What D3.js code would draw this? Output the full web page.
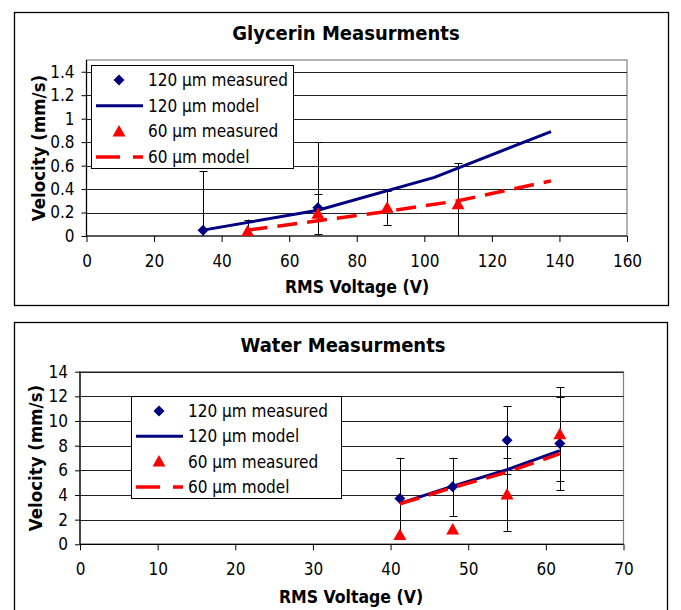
<!DOCTYPE html>
<html>
<head>
<meta charset="utf-8">
<script src="https://cdn.jsdelivr.net/npm/d3@7"></script>
<style>
  body { margin: 0; background: #fff; }
  text { font-family: Tahoma, "DejaVu Sans Condensed", "DejaVu Sans", sans-serif; fill: #000; }
</style>
</head>
<body>
<svg width="681" height="610"></svg>
<script>

var series_names = ['120 µm measured', '120 µm model', '60 µm measured', '60 µm model']

////////////////////// GLYCERIN ////////////////////////////////////

var gly_x_ticks = [0, 20, 40, 60, 80, 100, 120, 140, 160]
var gly_y_ticks = [0, 0.2, 0.4, 0.6, 0.8, 1, 1.2, 1.4]
var gly_y_labels = ['0', '0.2', '0.4', '0.6', '0.8', '1', '1.2', '1.4']

var gly_120_volts = [34.5, 68.5]
var gly_120_vel = [0.05, 0.24]
var gly_120_err = [0.5, 0.56]

var gly_120_model_volts = [34.5, 68.5, 103, 137.5]
var gly_120_model_vel = [0.05, 0.22, 0.5, 0.89]

var gly_60_volts = [47.7, 68.5, 89, 110]
var gly_60_vel = [0.04, 0.19, 0.24, 0.27]
var gly_60_err = [0.1, 0.17, 0.145, 0.35]

var gly_60_model_volts = [47.7, 68.5, 89, 110, 137.5]
var gly_60_model_vel = [0.05, 0.13, 0.21, 0.3, 0.47]

////////////////////// WATER ////////////////////////////////////

var wat_x_ticks = [0, 10, 20, 30, 40, 50, 60, 70]
var wat_y_ticks = [0, 2, 4, 6, 8, 10, 12, 14]
var wat_y_labels = ['0', '2', '4', '6', '8', '10', '12', '14']

var wat_120_volts = [41.2, 48, 55, 61.8]
var wat_120_vel = [3.72, 4.67, 8.44, 8.17]
var wat_120_err = [3.3, 2.36, 2.77, 3.8]

var wat_120_model_volts = [41.2, 48, 55, 61.8]
var wat_120_model_vel = [3.32, 4.72, 6.05, 7.6]

var wat_60_volts = [41.2, 48, 55, 61.8]
var wat_60_vel = [0.75, 1.21, 4.04, 8.92]
var wat_60_err = [0, 0, 2.95, 3.8]

var wat_60_model_volts = [41.2, 48, 55, 61.8]
var wat_60_model_vel = [3.28, 4.6, 5.85, 7.35]

var navy = '#000080'
var red = '#ff0000'

function zip (xs, ys, errs) {
  return xs.map((x, i) => ({ x: x, y: ys[i], err: errs ? errs[i] : 0 }))
}

var svg = d3.select('svg')

function chart (cfg, id) {
  var g = svg.append('g')

  // outer frame
  g.append('rect')
    .attr('x', cfg.frame[0] + .5).attr('y', cfg.frame[1] + .5)
    .attr('width', cfg.frame[2]).attr('height', cfg.frame[3])
    .attr('fill', '#fff').attr('stroke', '#000').attr('stroke-width', 1.3)

  var x = d3.scaleLinear().domain(cfg.x_domain).range([cfg.plot.left, cfg.plot.right])
  var y = d3.scaleLinear().domain(cfg.y_domain).range([cfg.plot.bottom, cfg.plot.top])

  g.append('text')
    .attr('x', cfg.title_pos[0]).attr('y', cfg.title_pos[1])
    .attr('text-anchor', 'middle').attr('dominant-baseline', 'central')
    .attr('font-size', 20).attr('font-weight', 'bold')
    .text(cfg.title)

  // plot area border
  g.append('rect')
    .attr('x', cfg.plot.left).attr('y', cfg.plot.top)
    .attr('width', cfg.plot.right - cfg.plot.left)
    .attr('height', cfg.plot.bottom - cfg.plot.top)
    .attr('fill', 'none').attr('stroke', '#808080').attr('stroke-width', 1.2)

  // gridlines
  g.append('g').selectAll('line')
    .data(cfg.y_ticks.filter((d) => d > 0))
    .enter().append('line')
      .attr('x1', cfg.plot.left).attr('x2', cfg.plot.right)
      .attr('y1', (d) => Math.round(y(d)) + .5).attr('y2', (d) => Math.round(y(d)) + .5)
      .attr('stroke', '#222').attr('stroke-width', 1)

  // axes
  var y_axis = d3.axisLeft(y).tickValues(cfg.y_ticks)
    .tickFormat((d, i) => cfg.y_labels[i]).tickSize(5).tickPadding(7)
  var ya = g.append('g')
    .attr('transform', 'translate(' + cfg.plot.left + ',0)')
    .call(y_axis)
  var x_axis = d3.axisBottom(x).tickValues(cfg.x_ticks)
    .tickFormat(d3.format('d')).tickSize(6).tickPadding(13)
  var xa = g.append('g')
    .attr('transform', 'translate(0,' + cfg.plot.bottom + ')')
    .call(x_axis)
  ;[ya, xa].forEach((a) => {
    a.selectAll('path').attr('stroke', '#000').attr('stroke-width', 1.2)
    a.selectAll('line').attr('stroke', '#000')
    a.selectAll('text').attr('font-size', 17).attr('font-family', null)
  })
  ya.select('.domain').attr('d', 'M0,' + cfg.plot.top + 'V' + cfg.plot.bottom)
  xa.select('.domain').attr('d', 'M' + cfg.plot.left + ',0H' + cfg.plot.right)

  g.append('text')
    .attr('x', cfg.x_title_pos[0]).attr('y', cfg.x_title_pos[1])
    .attr('text-anchor', 'middle').attr('dominant-baseline', 'central')
    .attr('font-size', 17.5).attr('font-weight', 'bold')
    .text('RMS Voltage (V)')
  g.append('text')
    .attr('transform', 'translate(' + cfg.y_title_pos[0] + ',' + cfg.y_title_pos[1] + ') rotate(-90)')
    .attr('text-anchor', 'middle').attr('dominant-baseline', 'central')
    .attr('font-size', 18.5).attr('font-weight', 'bold')
    .text('Velocity (mm/s)')

  // clip for series
  svg.append('clipPath').attr('id', 'clip' + id)
    .append('rect')
      .attr('x', cfg.plot.left).attr('y', cfg.plot.top)
      .attr('width', cfg.plot.right - cfg.plot.left)
      .attr('height', cfg.plot.bottom - cfg.plot.top)
  var s = g.append('g').attr('clip-path', 'url(#clip' + id + ')')

  var line = d3.line().x((d) => x(d.x)).y((d) => y(d.y))

  function error_bars (pts) {
    var e = s.append('g').attr('stroke', '#000').attr('stroke-width', 1)
    pts.filter((d) => d.err > 0).forEach((d) => {
      var cx = Math.round(x(d.x)) + .5
      e.append('line').attr('x1', cx).attr('x2', cx)
        .attr('y1', y(d.y + d.err)).attr('y2', y(d.y - d.err))
      ;[d.y + d.err, d.y - d.err].forEach((v) => {
        e.append('line').attr('x1', cx - 4).attr('x2', cx + 4)
          .attr('y1', Math.round(y(v)) + .5).attr('y2', Math.round(y(v)) + .5)
      })
    })
  }

  error_bars(cfg.meas120)
  error_bars(cfg.meas60)

  s.selectAll('.dia').data(cfg.meas120).enter()
    .append('path').attr('class', 'dia')
    .attr('transform', (d) => 'translate(' + x(d.x) + ',' + y(d.y) + ')')
    .attr('d', 'M0,-5.5L5.5,0L0,5.5L-5.5,0Z').attr('fill', navy)

  s.append('path').datum(cfg.model120)
    .attr('d', line).attr('fill', 'none')
    .attr('stroke', navy).attr('stroke-width', 3)

  s.selectAll('.tri').data(cfg.meas60).enter()
    .append('path').attr('class', 'tri')
    .attr('transform', (d) => 'translate(' + x(d.x) + ',' + y(d.y) + ')')
    .attr('d', 'M0,-6.5L6.5,5L-6.5,5Z').attr('fill', red)

  s.append('path').datum(cfg.model60)
    .attr('d', line).attr('fill', 'none')
    .attr('stroke', red).attr('stroke-width', 3.5)
    .attr('stroke-dasharray', '20,10')

  // legend
  var L = cfg.legend
  var lg = g.append('g')
  lg.append('rect')
    .attr('x', L.x + .5).attr('y', L.y + .5).attr('width', L.w).attr('height', L.h)
    .attr('fill', '#fff').attr('stroke', '#000').attr('stroke-width', 1)
  series_names.forEach((name, i) => {
    var cy = L.row0 + i * L.step
    if (i === 0) {
      lg.append('path').attr('transform', 'translate(' + L.mx + ',' + cy + ')')
        .attr('d', 'M0,-5.5L5.5,0L0,5.5L-5.5,0Z').attr('fill', navy)
    } else if (i === 2) {
      lg.append('path').attr('transform', 'translate(' + L.mx + ',' + cy + ')')
        .attr('d', 'M0,-6.5L6.5,5L-6.5,5Z').attr('fill', red)
    } else {
      lg.append('line').attr('x1', L.lx1).attr('x2', L.lx2).attr('y1', cy).attr('y2', cy)
        .attr('stroke', i === 1 ? navy : red).attr('stroke-width', i === 1 ? 3 : 3.5)
        .attr('stroke-dasharray', i === 1 ? null : '24,13')
    }
    lg.append('text').attr('x', L.tx).attr('y', cy)
      .attr('dominant-baseline', 'central').attr('font-size', 17)
      .text(name)
  })
}

chart({
  title: 'Glycerin Measurments',
  frame: [14, 12, 654, 293],
  plot: { left: 86.5, right: 627, top: 60, bottom: 236 },
  x_domain: [0, 160], y_domain: [0, 1.5],
  x_ticks: gly_x_ticks, y_ticks: gly_y_ticks, y_labels: gly_y_labels,
  title_pos: [346, 33], x_title_pos: [357, 287], y_title_pos: [38, 148],
  legend: { x: 91, y: 65, w: 202, h: 103, row0: 80, step: 25.7, mx: 119, lx1: 96, lx2: 143, tx: 148 },
  meas120: zip(gly_120_volts, gly_120_vel, gly_120_err),
  model120: zip(gly_120_model_volts, gly_120_model_vel),
  meas60: zip(gly_60_volts, gly_60_vel, gly_60_err),
  model60: zip(gly_60_model_volts, gly_60_model_vel)
}, 1)

chart({
  title: 'Water Measurments',
  frame: [14, 322, 653, 293],
  plot: { left: 80, right: 623.5, top: 371.7, bottom: 544.3 },
  x_domain: [0, 70], y_domain: [0, 14],
  x_ticks: wat_x_ticks, y_ticks: wat_y_ticks, y_labels: wat_y_labels,
  title_pos: [343, 345], x_title_pos: [351, 597], y_title_pos: [35, 458],
  legend: { x: 131, y: 396, w: 210, h: 102, row0: 411, step: 25.3, mx: 159, lx1: 136, lx2: 183, tx: 188 },
  meas120: zip(wat_120_volts, wat_120_vel, wat_120_err),
  model120: zip(wat_120_model_volts, wat_120_model_vel),
  meas60: zip(wat_60_volts, wat_60_vel, wat_60_err),
  model60: zip(wat_60_model_volts, wat_60_model_vel)
}, 2)

</script>
</body>
</html>
